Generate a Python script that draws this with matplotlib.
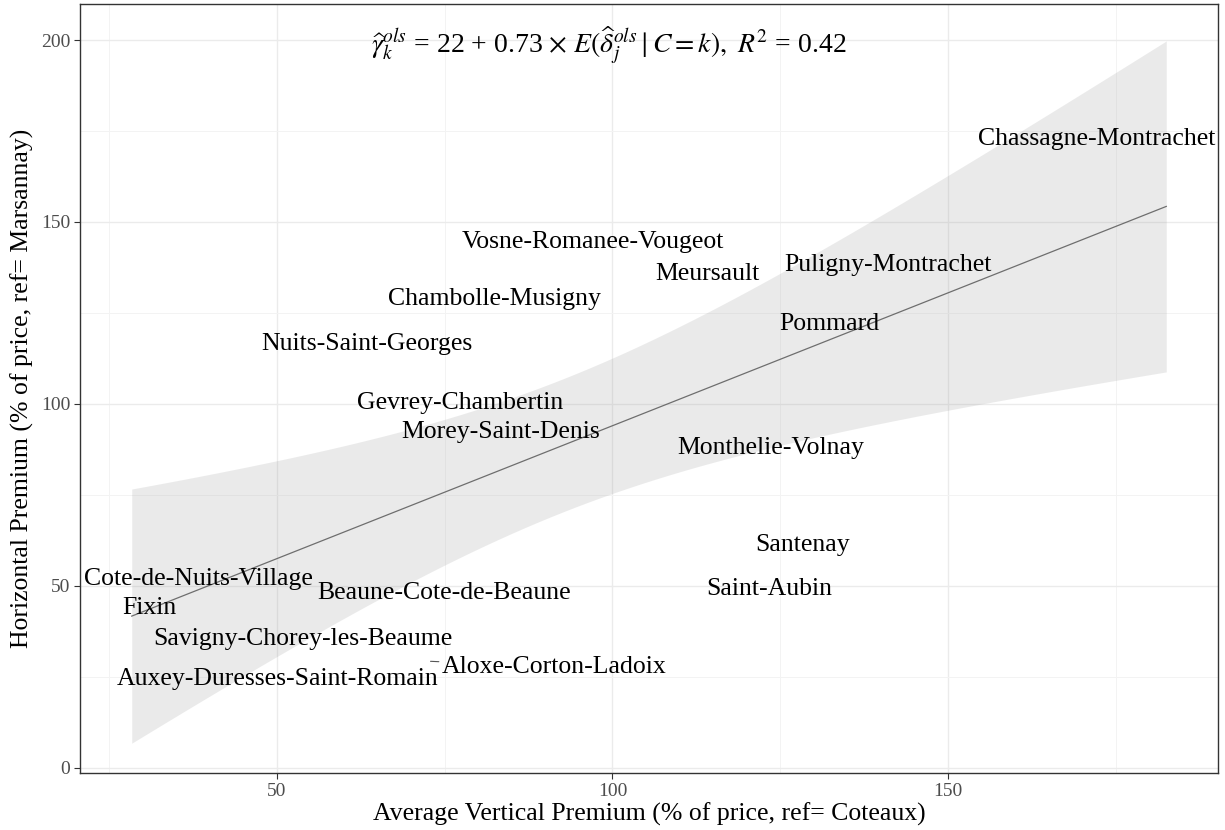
import numpy as np
import matplotlib
matplotlib.use("Agg")
import matplotlib.pyplot as plt
from matplotlib.ticker import MultipleLocator

plt.rcParams['font.family'] = ['Liberation Serif', 'DejaVu Serif']
plt.rcParams['mathtext.fontset'] = 'stix'

# appellations with average vertical premium (x) and horizontal premium (y)
names = ["Chassagne-Montrachet", "Vosne-Romanee-Vougeot", "Meursault",
         "Puligny-Montrachet", "Chambolle-Musigny", "Pommard",
         "Nuits-Saint-Georges", "Gevrey-Chambertin", "Morey-Saint-Denis",
         "Monthelie-Volnay", "Santenay", "Saint-Aubin",
         "Cote-de-Nuits-Village", "Beaune-Cote-de-Beaune", "Fixin",
         "Savigny-Chorey-les-Beaume", "Aloxe-Corton-Ladoix",
         "Auxey-Duresses-Saint-Romain"]
vert = [182.5, 97.1, 114.2, 141.1, 82.5, 132.3, 63.4, 77.3, 83.3,
        123.6, 128.3, 123.3, 38.3, 75.0, 28.4, 53.9, 72.7, 50.1]
horiz = [173.5, 145.3, 136.5, 138.9, 129.6, 122.7, 117.2, 101.0, 93.1,
         88.7, 62.0, 49.9, 52.7, 48.8, 44.6, 36.2, 29.3, 25.2]

equation = (r"$\widehat{\gamma}_k^{ols}$ = 22 + 0.73 $\times$ "
            r"$E(\widehat{\delta}_j^{ols}\mid C = k),\ R^2$ = 0.42")

x = np.array(vert)
y = np.array(horiz)
n = len(x)

# OLS fit with 95% confidence band, like geom_smooth(method = "lm")
slope, intercept = np.polyfit(x, y, 1)
resid = y - (intercept + slope * x)
s = np.sqrt(np.sum(resid ** 2) / (n - 2))
sxx = np.sum((x - x.mean()) ** 2)
t_crit = 2.1199  # t(0.975, df = 16)
xs = np.linspace(x.min(), x.max(), 80)
fit = intercept + slope * xs
half = t_crit * s * np.sqrt(1 / n + (xs - x.mean()) ** 2 / sxx)

fig = plt.figure(figsize=(12.25, 8.3), dpi=100)
ax = fig.add_axes([0.0653, 0.0687, 0.929, 0.9265])

ax.fill_between(xs, fit - half, fit + half, color='#999999', alpha=0.2,
                linewidth=0, zorder=2)
ax.plot(xs, fit, color='#6e6e6e', linewidth=0.9, zorder=3)

# label nudges (points) where ggrepel moved the text off its point
nudge = {"Chassagne-Montrachet": (-50, -2), "Fixin": (13, -2)}
for nm, xi, yi in zip(names, vert, horiz):
    if nm == "Aloxe-Corton-Ladoix":
        ax.annotate(nm, (xi, yi), xytext=(9, -4), textcoords='offset points',
                    ha='left', va='center', fontsize=18.5, zorder=4,
                    arrowprops=dict(arrowstyle='-', color='#555555', lw=0.8,
                                    shrinkA=0, shrinkB=1))
        continue
    dx, dy = nudge.get(nm, (0, -2))
    ax.annotate(nm, (xi, yi), xytext=(dx, dy), textcoords='offset points',
                ha='center', va='center', fontsize=18.5, zorder=4)

ax.text(99.5, 198.5, equation, ha='center', va='center',
        fontsize=20, zorder=4)

ax.set_xlim(x.min() - 0.05 * np.ptp(x), x.max() + 0.05 * np.ptp(x))
ax.set_ylim(-1.4, 209.9)

ax.xaxis.set_major_locator(MultipleLocator(50))
ax.xaxis.set_minor_locator(MultipleLocator(25))
ax.yaxis.set_major_locator(MultipleLocator(50))
ax.yaxis.set_minor_locator(MultipleLocator(25))
ax.grid(which='major', color='#ebebeb', linewidth=1.0, zorder=0)
ax.grid(which='minor', color='#f3f3f3', linewidth=0.7, zorder=0)
ax.set_axisbelow(True)
ax.tick_params(which='major', length=4, width=0.8, color='#333333',
               labelcolor='#4d4d4d', labelsize=14, pad=3)
ax.tick_params(which='minor', length=0)
for sp in ax.spines.values():
    sp.set_color('#333333')
    sp.set_linewidth(1.0)

ax.set_xlabel("Average Vertical Premium (% of price, ref= Coteaux)",
              fontsize=18.5, labelpad=2)
ax.set_ylabel("Horizontal Premium (% of price, ref= Marsannay)",
              fontsize=18.5, labelpad=5)

fig.savefig("out.png", dpi=100)
